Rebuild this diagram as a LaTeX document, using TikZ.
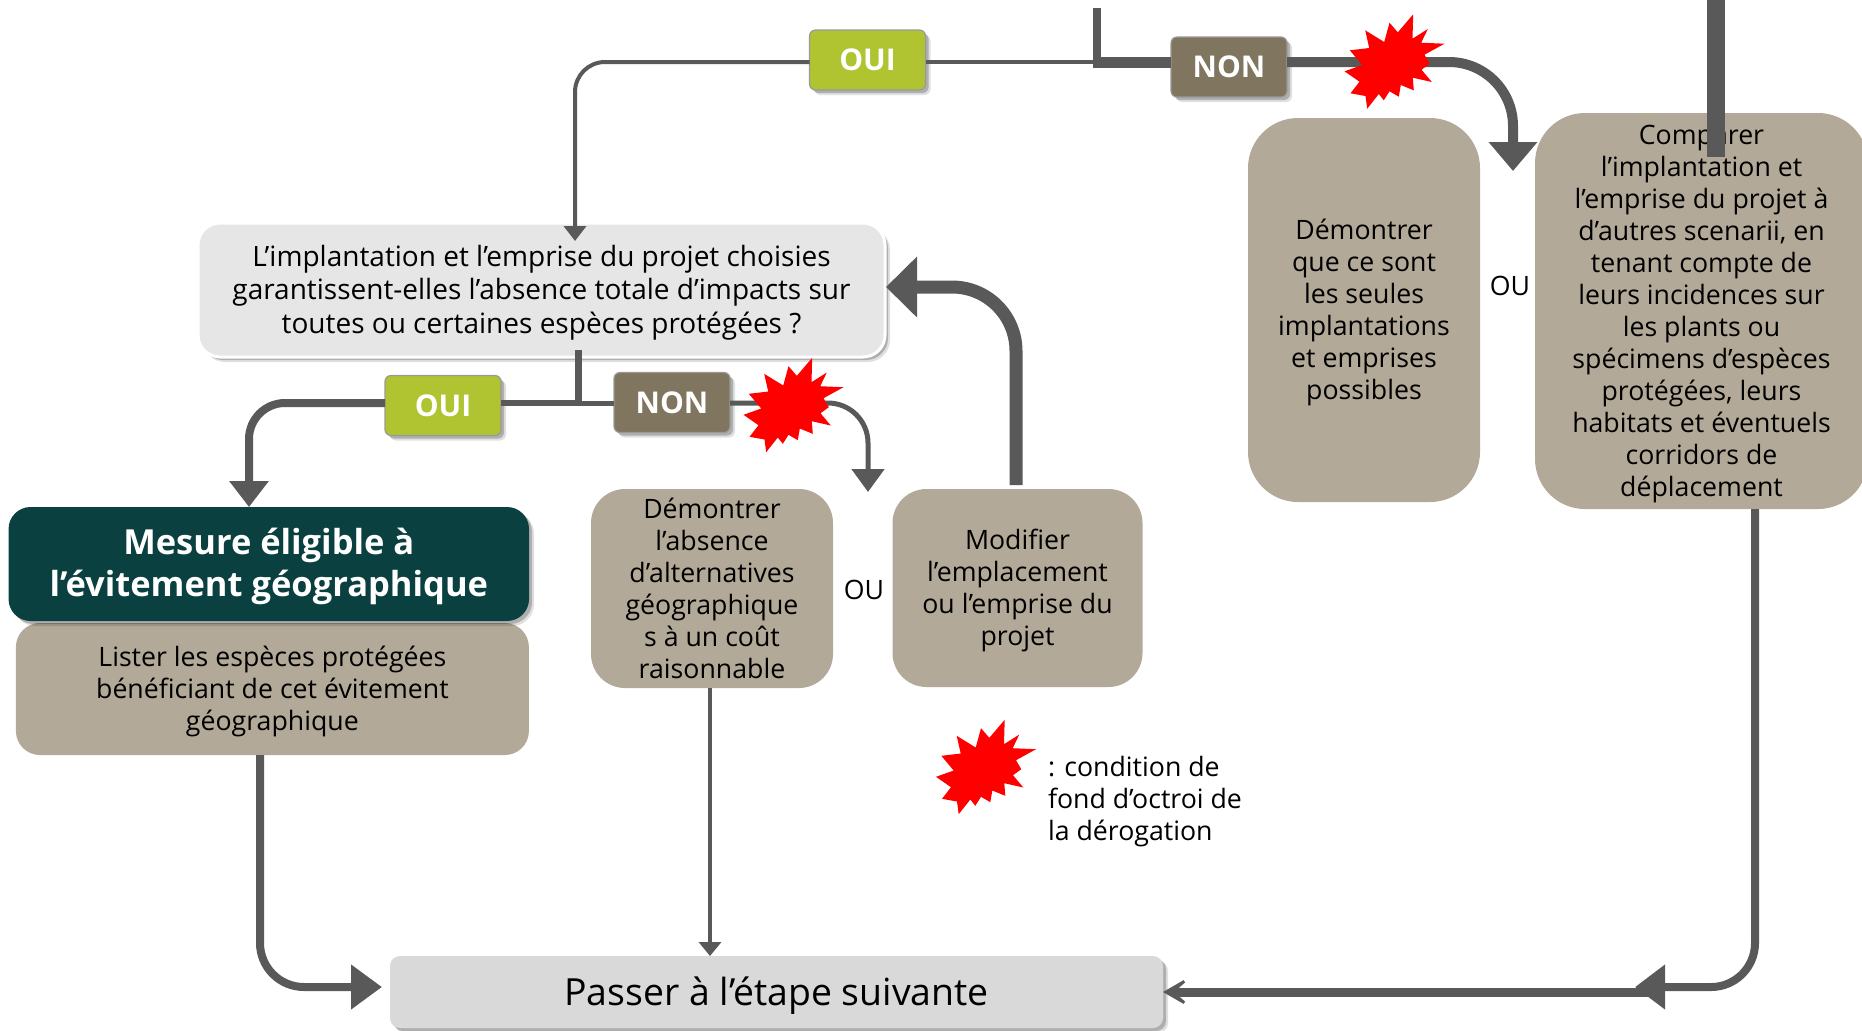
\documentclass[tikz,border=0pt]{standalone}
\usepackage{fontspec}
\setmainfont{Open Sans}
\usetikzlibrary{arrows.meta,shadows}
\definecolor{vertoui}{HTML}{AFC430}
\definecolor{brunnon}{HTML}{80755F}
\definecolor{beige}{HTML}{B3A998}
\definecolor{sombre}{HTML}{0A4040}
\definecolor{trait}{HTML}{595959}
\definecolor{clair}{HTML}{E6E6E6}
\definecolor{moyen}{HTML}{D9D9D9}
\newcommand{\corps}[1]{\fontsize{#1}{16pt}\selectfont}
\newcommand{\bas}[1]{\rule{0pt}{#1}}
\tikzset{
 taille/.style 2 args={minimum width=#1*.5pt,minimum height=#2*.5pt},
 base/.style={inner sep=0pt,outer sep=0pt,align=center,font=\corps{13.35pt}},
 ombre/.style={drop shadow={shadow xshift=2.5pt,shadow yshift=-2.5pt,fill=black,opacity=.12},
  drop shadow={shadow xshift=1.5pt,shadow yshift=-1.5pt,fill=black,opacity=.22}},
 boite/.style={base,fill=beige,rounded corners=17pt},
 rep/.style={base,ombre,rounded corners=3pt,draw=black!40,line width=.6pt,text=white,font=\corps{15pt}\bfseries,taille={116}{60}},
 lien/.style={draw=trait,line width=#1},
 lien/.default=2pt,
 fleche/.style 2 args={-{Triangle[length=#1,width=#2]},trait},
 etoile/.pic={\fill[red] (18.7,-47.2)--(18,-22.8)--(33.3,-32.5)--(26.7,-18.8)--(50,-17.8)--(30,-6.8)--(35.3,2.2)--(27,8.2)--(37.3,20.5)--(18.3,16.2)--(19.3,28.8)--(6.3,23.5)--(4.3,35.2)--(-5,29.8)--(-10.7,38.8)--(-15.7,32.5)--(-27.3,47.2)--(-29,34.5)--(-44,31.8)--(-35,20.2)--(-50,9.8)--(-32.3,3.5)--(-44.7,-11.2)--(-25.3,-13.5)--(-29.3,-31.2)--(-10.3,-19.5)--(-5,-38.8)--(3.3,-29.2)--cycle;}
}
\begin{document}
\begin{tikzpicture}[x=.5pt,y=-.5pt,line join=round]
 \clip[use as bounding box] (0,0) rectangle (1862,1030);
 % boxes
 \node[base,ombre,fill=clair,draw=white,line width=1.5pt,rounded corners=11pt,taille={687}{134},font=\fontsize{14pt}{16.8pt}\selectfont] (question) at (541.5,290)
  {\bas{13pt}L’implantation et l’emprise du projet choisies\\garantissent-elles l’absence totale d’impacts sur\\toutes ou certaines espèces protégées ?};
 \node[rep,fill=vertoui] (ouiA) at (867.5,60) {OUI};
 \node[rep,fill=brunnon] (nonA) at (1229,67) {NON};
 \node[rep,fill=vertoui] (ouiB) at (443,405.5) {OUI};
 \node[rep,fill=brunnon] (nonB) at (672,402.5) {NON};
 \node[boite,taille={513}{132},rounded corners=12pt] (liste) at (272.4,689)
  {\bas{13pt}Lister les espèces protégées\\bénéficiant de cet évitement\\géographique};
 \node[base,ombre,fill=sombre,text=white,rounded corners=11pt,taille={520.5}{114},font=\fontsize{17.25pt}{21pt}\selectfont\bfseries] (mesure) at (268.8,564)
  {\bas{15.7pt}Mesure éligible à\\l’évitement géographique};
 \node[boite,taille={242}{199}] (alternatives) at (712,588.5)
  {Démontrer\\l’absence\\d’alternatives\\géographique\\s à un coût\\raisonnable};
 \node[boite,taille={250}{198}] (modifier) at (1017.5,588)
  {\bas{13pt}Modifier\\l’emplacement\\ou l’emprise du\\projet};
 \node[boite,taille={232}{384},rounded corners=25pt] (seules) at (1364,310)
  {\bas{13pt}Démontrer\\que ce sont\\les seules\\implantations\\et emprises\\possibles};
 \node[boite,taille={333}{396},rounded corners=25pt] (comparer) at (1701.5,311)
  {\bas{13pt}Comparer\\l’implantation et\\l’emprise du projet à\\d’autres scenarii, en\\tenant compte de\\leurs incidences sur\\les plants ou\\spécimens d’espèces\\protégées, leurs\\habitats et éventuels\\corridors de\\déplacement};
 \node[base,ombre,fill=moyen,rounded corners=5pt,taille={773}{72},font=\corps{18.7pt}] (passer) at (776.5,992) {\bas{17.8pt}Passer à l’étape suivante};
 \node[base] (ouA) at (864,590) {OU};
 \node[base] (ouB) at (1510,286) {OU};
 \node[base,anchor=west,align=left] (legende) at (1048,801.5) {: condition de\\fond d’octroi de\\la dérogation};
 % points
 \coordinate (hautA) at (1097,8);
 \coordinate (jonctionA) at (1097,62);
 \coordinate (arriveeA) at (575,241);
 \coordinate (arriveeC) at (1513,171);
 \coordinate (hautD) at (1716,0);
 \coordinate (finD) at (1716,157);
 \coordinate (departB) at (578,350);
 \coordinate (jonctionB) at (578,403);
 \coordinate (arriveeB) at (249,507);
 \coordinate (arriveeF) at (868,492);
 \coordinate (arriveeG) at (886,287);
 \coordinate (departE) at (260,755);
 \coordinate (arriveeE) at (382,987);
 \coordinate (departH) at (1755,509);
 \coordinate (arriveeH) at (1635,987);
 \coordinate (departM) at (710,688);
 \coordinate (jonctionH) at (1665,992);
 \coordinate (etoileA) at (1394.5,61.5);
 \coordinate (etoileB) at (793.5,405);
 \coordinate (etoileC) at (986,767);
 % connectors
 \draw[lien=4pt] (hautA) -- (jonctionA);
 \draw[lien=2pt] (jonctionA) -- (ouiA.east |- jonctionA);
 \draw[lien=2pt,fleche={7.5pt}{11pt},rounded corners=15pt] (ouiA.west |- jonctionA) -| (arriveeA);
 \draw[lien=5.5pt] ([xshift=-2pt]jonctionA) -- (nonA.west |- jonctionA);
 \draw[lien=5pt,fleche={14.5pt}{23.5pt},rounded corners=32pt] (nonA.east |- jonctionA) -| (arriveeC);
 \draw[lien=9pt] (hautD) -- (finD);
 \draw[lien=3.5pt] (departB) -- (jonctionB);
 \draw[lien=3pt] (jonctionB) -- (ouiB.east |- jonctionB);
 \draw[lien=4pt,fleche={13pt}{19pt},rounded corners=18pt] (ouiB.west |- jonctionB) -| (arriveeB);
 \draw[lien=2.5pt] (jonctionB) -- (nonB.west |- jonctionB);
 \draw[lien=2.5pt,fleche={11.5pt}{16pt},rounded corners=20pt] (nonB.east |- jonctionB) -| (arriveeF);
 \draw[lien=6.5pt,fleche={15.5pt}{29.5pt},rounded corners=32pt] ([xshift=-.75pt,yshift=2pt]modifier.north) |- (arriveeG);
 \draw[lien=2pt,fleche={7pt}{11pt}] (departM) -- (departM |- passer.north);
 \draw[lien=4pt,fleche={15.5pt}{21.5pt},rounded corners=22pt] (departE) |- (arriveeE);
 \draw[lien=4pt,fleche={15pt}{21.5pt},rounded corners=22pt] (departH) |- (arriveeH);
 \draw[lien=4.5pt,-{Stealth[length=16.5pt,width=19pt,inset=11pt]},trait] (jonctionH) -- (passer.east);
 % stars
 \pic at (etoileA) {etoile};
 \pic at (etoileB) {etoile};
 \pic at (etoileC) {etoile};
\end{tikzpicture}
\end{document}
